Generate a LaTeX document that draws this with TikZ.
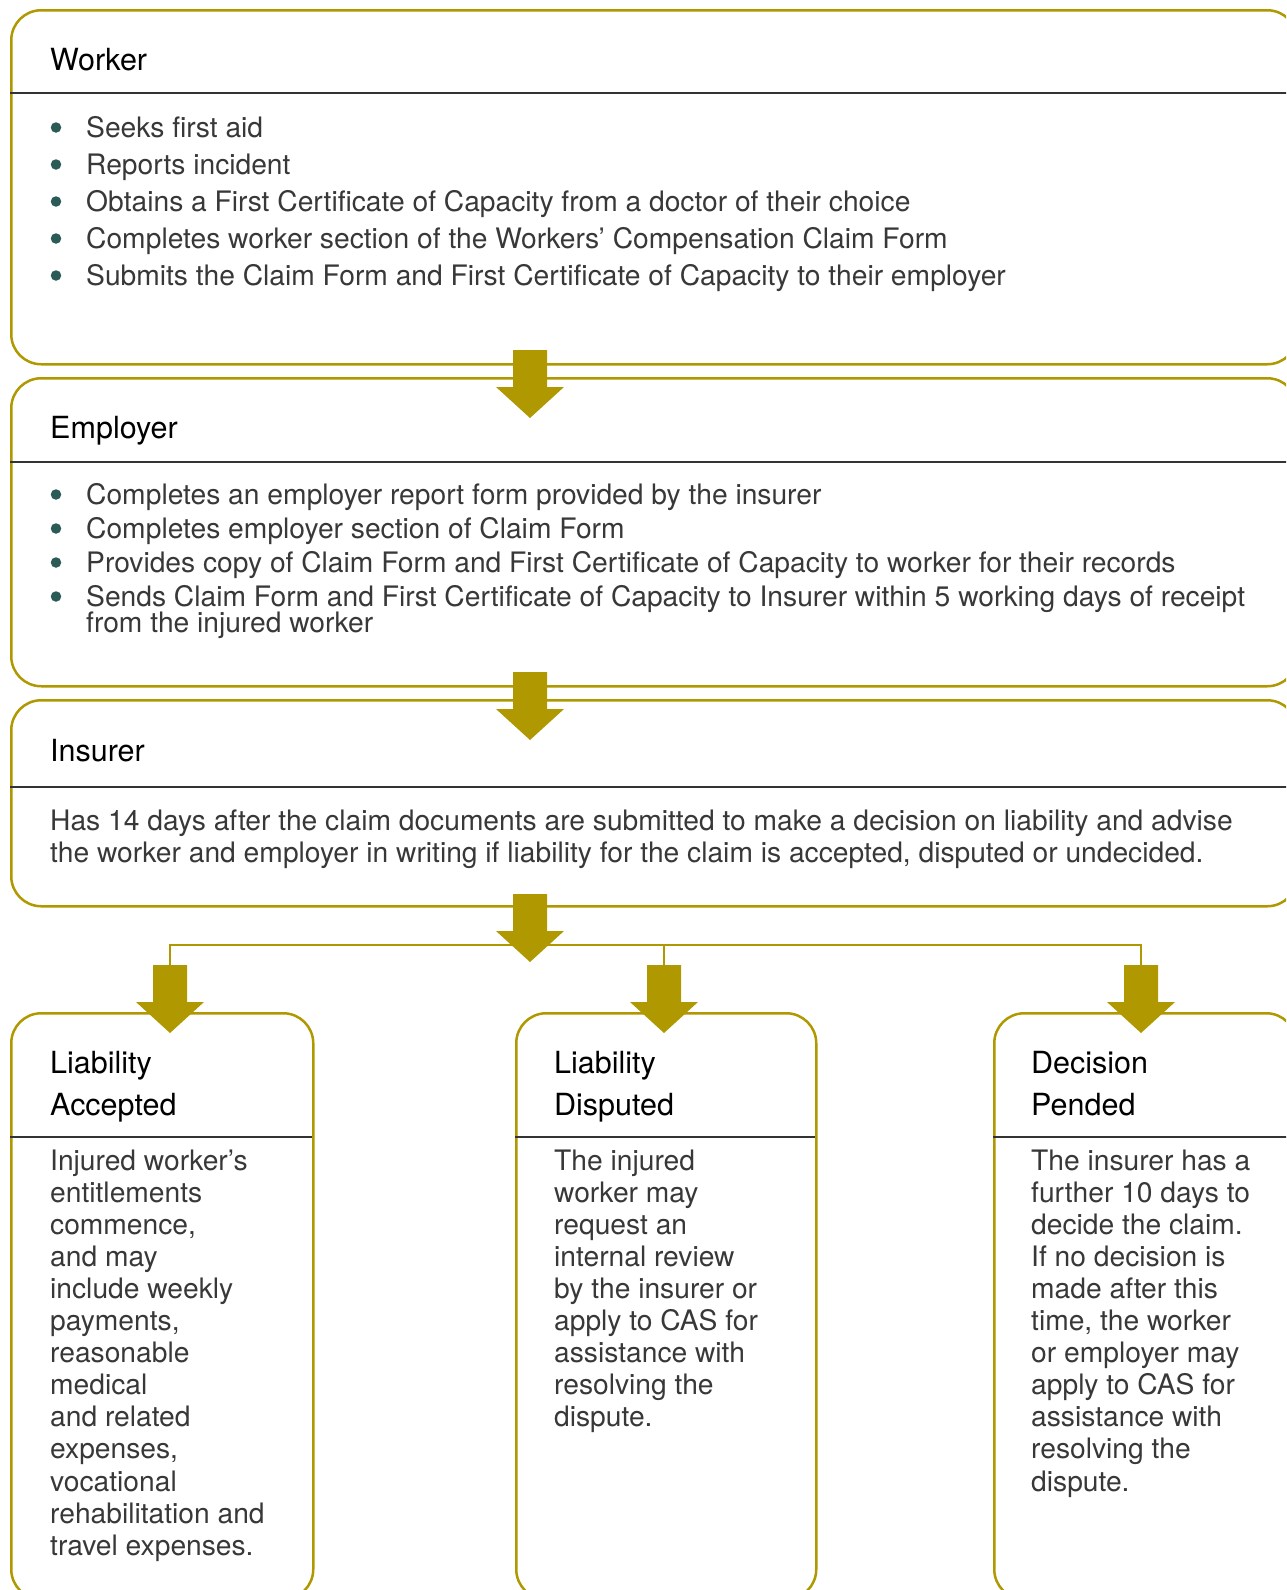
\documentclass[tikz,border=0pt]{standalone}
\usepackage{fontspec}
\setmainfont{TeX Gyre Heros}
\definecolor{gold}{HTML}{B09800}
\definecolor{bul}{HTML}{2A5B57}
\definecolor{txt}{HTML}{383838}
\definecolor{rulec}{HTML}{333333}
\newcommand\hdrfont{\fontsize{30.5}{42}\selectfont}
\newcommand\bodyfont{\fontsize{28.2}{32}\selectfont}
\tikzset{
  box/.style={draw=gold, line width=2.5pt, rounded corners=30pt, anchor=north west, inner sep=0pt},
  hdr/.style={anchor=base west, inner sep=0pt, font=\hdrfont, text=black},
  body/.style={anchor=base west, inner sep=0pt, font=\bodyfont, text=txt},
  dotb/.style={circle, fill=bul, inner sep=0pt, minimum size=10.5pt},
  sepline/.style={draw=rulec, line width=1.2pt},
  conn/.style={draw=gold, line width=2.4pt},
  pics/blockarrow/.style={code={
    \fill[gold] (-17,0) -- (17,0) -- (17,37) -- (34,37) -- (0,68) -- (-34,37) -- (-17,37) -- cycle;}}
}
\begin{document}
\begin{tikzpicture}[x=1pt,y=-1pt]
\useasboundingbox (0,0) rectangle (1286,1590);
\clip (0,0) rectangle (1286,1590);
\fill[white] (0,0) rectangle (1286,1590);

% ---- boxes
\node[box, minimum width=1286pt, minimum height=354pt] (worker) at (10,9) {};
\node[box, minimum width=1286pt, minimum height=308pt] (employer) at (10,377) {};
\node[box, minimum width=1286pt, minimum height=206pt] (insurer) at (10,699) {};
\node[box, minimum width=302pt, minimum height=586pt] (acc) at (10,1012) {};
\node[box, minimum width=300pt, minimum height=586pt] (dis) at (515,1012) {};
\node[box, minimum width=302pt, minimum height=586pt] (pen) at (993,1012) {};

% ---- header rules
\draw[sepline] (10,93) -- (1296,93);
\draw[sepline] (10,462) -- (1296,462);
\draw[sepline] (10,787) -- (1296,787);
\draw[sepline] (10,1137) -- (312,1137);
\draw[sepline] (515,1137) -- (815,1137);
\draw[sepline] (993,1137) -- (1295,1137);

% ---- worker
\node[hdr] (wh) at (50,70) {Worker};
\foreach \t [count=\i from 0] in {Seeks first aid, Reports incident,
  Obtains a First Certificate of Capacity from a doctor of their choice,
  Completes worker section of the Workers’ Compensation Claim Form,
  Submits the Claim Form and First Certificate of Capacity to their employer}{
  \node[dotb] (wd\i) at (56,127.5+37*\i) {};
  \node[body] (wt\i) at (86,137+37*\i) {\t};
}

% ---- employer
\node[hdr] (eh) at (50,438) {Employer};
\foreach \t [count=\i from 0] in {Completes an employer report form provided by the insurer,
  Completes employer section of Claim Form,
  Provides copy of Claim Form and First Certificate of Capacity to worker for their records,
  Sends Claim Form and First Certificate of Capacity to Insurer within 5 working days of receipt}{
  \node[dotb] (ed\i) at (56,494.5+34*\i) {};
  \node[body] (et\i) at (86,504+34*\i) {\t};
}
\node[body] (et4) at (86,632) {from the injured worker};

% ---- insurer
\node[hdr] (ih) at (50,761) {Insurer};
\node[body] (it0) at (50,830) {Has 14 days after the claim documents are submitted to make a decision on liability and advise};
\node[body] (it1) at (50,862) {the worker and employer in writing if liability for the claim is accepted, disputed or undecided.};

% ---- outcome headers
\node[hdr] (ah0) at (50,1073) {Liability};
\node[hdr] (ah1) at (50,1115) {Accepted};
\node[hdr] (dh0) at (554,1073) {Liability};
\node[hdr] (dh1) at (554,1115) {Disputed};
\node[hdr] (ph0) at (1031,1073) {Decision};
\node[hdr] (ph1) at (1031,1115) {Pended};

\foreach \t [count=\i from 0] in {Injured worker’s, entitlements, {commence,}, and may,
  include weekly, {payments,}, reasonable, medical, and related, {expenses,},
  vocational, rehabilitation and, travel expenses.}{
  \node[body] (at\i) at (50,1170+32.1*\i) {\t};
}
\foreach \t [count=\i from 0] in {The injured, worker may, request an, internal review,
  by the insurer or, apply to CAS for, assistance with, resolving the, dispute.}{
  \node[body] (dt\i) at (554,1170+32.1*\i) {\t};
}
\foreach \t [count=\i from 0] in {The insurer has a, further 10 days to, decide the claim.,
  If no decision is, made after this, {time, the worker}, or employer may,
  apply to CAS for, assistance with, resolving the, dispute.}{
  \node[body] (pt\i) at (1031,1170+32.1*\i) {\t};
}

% ---- connectors
\coordinate (a1) at (530,350);
\coordinate (a2) at (530,672);
\coordinate (a3) at (530,894);
\coordinate (bl) at (170,965);
\coordinate (bm) at (664,965);
\coordinate (br) at (1141,965);
\coordinate (bj) at (530,945);
\draw[conn] (bl) |- (bj) -| (br);
\draw[conn] (bm) -- (bm |- bj);
\pic at (a1) {blockarrow};
\pic at (a2) {blockarrow};
\pic at (a3) {blockarrow};
\pic at (bl) {blockarrow};
\pic at (bm) {blockarrow};
\pic at (br) {blockarrow};
\end{tikzpicture}
\end{document}
